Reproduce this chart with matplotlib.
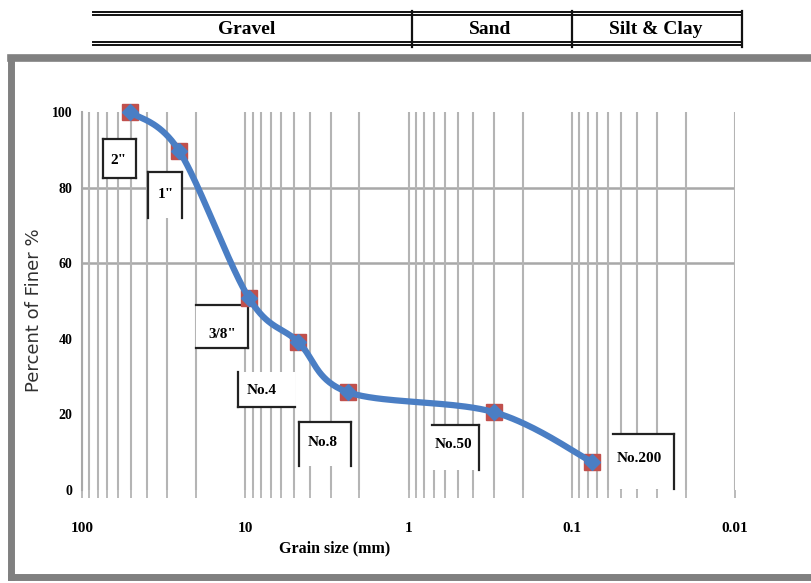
import numpy as np
import matplotlib.pyplot as plt
import matplotlib.transforms as mtransforms
from matplotlib.lines import Line2D
from matplotlib.patches import Rectangle
from matplotlib.ticker import LogLocator, NullFormatter

# Sieve analysis data
sieve_labels = ['2"', '1"', '3/8"', 'No.4', 'No.8', 'No.50', 'No.200']
grain_mm = [50.8, 25.4, 9.5, 4.75, 2.36, 0.3, 0.075]
pct_finer = [100, 89.7, 50.8, 39.2, 25.9, 20.6, 7.4]

soil_classes = ['Gravel', 'Sand', 'Silt & Clay']
x_ticks = [100, 10, 1, 0.1, 0.01]
x_ticklabels = ['100', '10', '1', '0.1', '0.01']
y_ticks = [0, 20, 40, 60, 80, 100]
y_grid = [60, 80]

W, H = 811, 583
fig = plt.figure(figsize=(W / 100, H / 100), dpi=100)
fig.patch.set_facecolor('white')
# pixel coords (origin top-left) -> figure
px = mtransforms.Affine2D().scale(1 / W, -1 / H).translate(0, 1) + fig.transFigure

serif = 'Liberation Serif'
ax = fig.add_axes([82 / W, 1 - 490 / H, (735 - 82) / W, (490 - 112) / H])
ax.set_xscale('log')
ax.set_xlim(100, 0.01)
ax.set_ylim(0, 100)
ax.set_axisbelow(True)

# grid
ax.xaxis.set_major_locator(plt.FixedLocator(x_ticks))
ax.xaxis.set_minor_locator(LogLocator(base=10, subs=np.arange(2, 10)))
ax.xaxis.set_minor_formatter(NullFormatter())
ax.set_xticklabels(x_ticklabels)
ax.grid(True, which='both', axis='x', color='#b4b4b4', lw=1.5)
for yg in y_grid:
    ax.axhline(yg, color='#a8a8a8', lw=1.8, zorder=0.5)
ax.set_yticks(y_ticks)

for s in ['top', 'right', 'bottom']:
    ax.spines[s].set_visible(False)
ax.spines['left'].set_color('#a8a8a8')
ax.spines['left'].set_linewidth(1.5)

ax.tick_params(axis='x', which='both', length=6, color='#b4b4b4', width=1.3, pad=17)
ax.tick_params(axis='y', length=0, pad=7)
for lab in ax.get_xticklabels():
    lab.set_fontfamily(serif); lab.set_fontweight('bold'); lab.set_fontsize(11)
for lab in ax.get_yticklabels():
    lab.set_fontfamily(serif); lab.set_fontweight('bold'); lab.set_fontsize(10)

# smooth curve (Catmull-Rom in screen-like space, like Excel smoothing)
u = np.log10(grain_mm) * 163.3
v = np.array(pct_finer) * 3.78
pts = np.column_stack([u, v])
ext = np.vstack([pts[0], pts, pts[-1]])
t = np.linspace(0, 1, 40)[:, None]
segs = []
for i in range(1, len(ext) - 2):
    p0, p1, p2, p3 = ext[i - 1], ext[i], ext[i + 1], ext[i + 2]
    segs.append(0.5 * (2 * p1 + (-p0 + p2) * t + (2 * p0 - 5 * p1 + 4 * p2 - p3) * t ** 2
                       + (-p0 + 3 * p1 - 3 * p2 + p3) * t ** 3))
curve = np.vstack(segs)
cx = 10 ** (curve[:, 0] / 163.3)
cy = curve[:, 1] / 3.78

ax.plot(grain_mm, pct_finer, 's', color='#c0504d', ms=11, zorder=3, clip_on=False)
ax.plot(cx, cy, '-', color='#4a7ec4', lw=4.5, zorder=4, clip_on=False, solid_capstyle='round')
ax.plot(grain_mm, pct_finer, 'D', color='#4a7ec4', ms=8, zorder=5, clip_on=False)

# sieve label boxes: x0, y0, x1, y1 (px), sides drawn, text position
boxes = [
    (103, 139, 136, 178, 'tlrb', 118, 160),
    (148, 172, 182, 218, 'tlr', 166, 194),
    (196, 305, 248, 348, 'trb', 222, 334),
    (238, 372, 295, 407, 'lb', 262, 390),
    (299, 422, 351, 466, 'tlr', 323, 442),
    (432, 425, 479, 470, 'tr', 453, 444),
    (613, 434, 674, 489, 'tr', 639, 459),
]
for lab, (x0, y0, x1, y1, sides, tx, ty) in zip(sieve_labels, boxes):
    ax.add_patch(Rectangle((x0, y0), x1 - x0, y1 - y0, transform=px, facecolor='white',
                           edgecolor='none', zorder=1, clip_on=False))
    segs_b = {'t': ([x0, x1], [y0, y0]), 'b': ([x0, x1], [y1, y1]),
              'l': ([x0, x0], [y0, y1]), 'r': ([x1, x1], [y0, y1])}
    for sd in sides:
        xs, ys = segs_b[sd]
        ax.add_line(Line2D(xs, ys, transform=px, color='#222222', lw=1.6, zorder=1.5, clip_on=False))
    ax.text(tx, ty, lab, transform=px, ha='center', va='center', fontsize=11,
            fontfamily=serif, fontweight='bold', zorder=2)

# axis titles
fig.text(335, 548, 'Grain size (mm)', transform=px, ha='center', va='center',
         fontsize=11.5, fontfamily=serif, fontweight='bold')
fig.text(34, 310, 'Percent of Finer %', transform=px, ha='center', va='center',
         rotation=90, fontsize=13, fontfamily='DejaVu Sans', color='#303030')

# soil classification header
for yy in [12, 15, 42, 45]:
    fig.add_artist(Line2D([93, 742], [yy, yy], transform=px, color='#111111', lw=1.4))
for xx in [412, 572, 742]:
    fig.add_artist(Line2D([xx, xx], [11, 47], transform=px, color='#111111', lw=1.6))
for name, xc in zip(soil_classes, [247, 490, 656]):
    fig.text(xc, 30, name, transform=px, ha='center', va='center', fontsize=14,
             fontfamily=serif, fontweight='bold')

# outer gray frame
frame_col = '#808080'
fig.add_artist(Line2D([11, 811], [58, 58], transform=px, color=frame_col, lw=5.5))
fig.add_artist(Line2D([11, 811], [577, 577], transform=px, color=frame_col, lw=5))
fig.add_artist(Line2D([11, 11], [58, 577], transform=px, color=frame_col, lw=5))

fig.savefig('out.png', dpi=100)
